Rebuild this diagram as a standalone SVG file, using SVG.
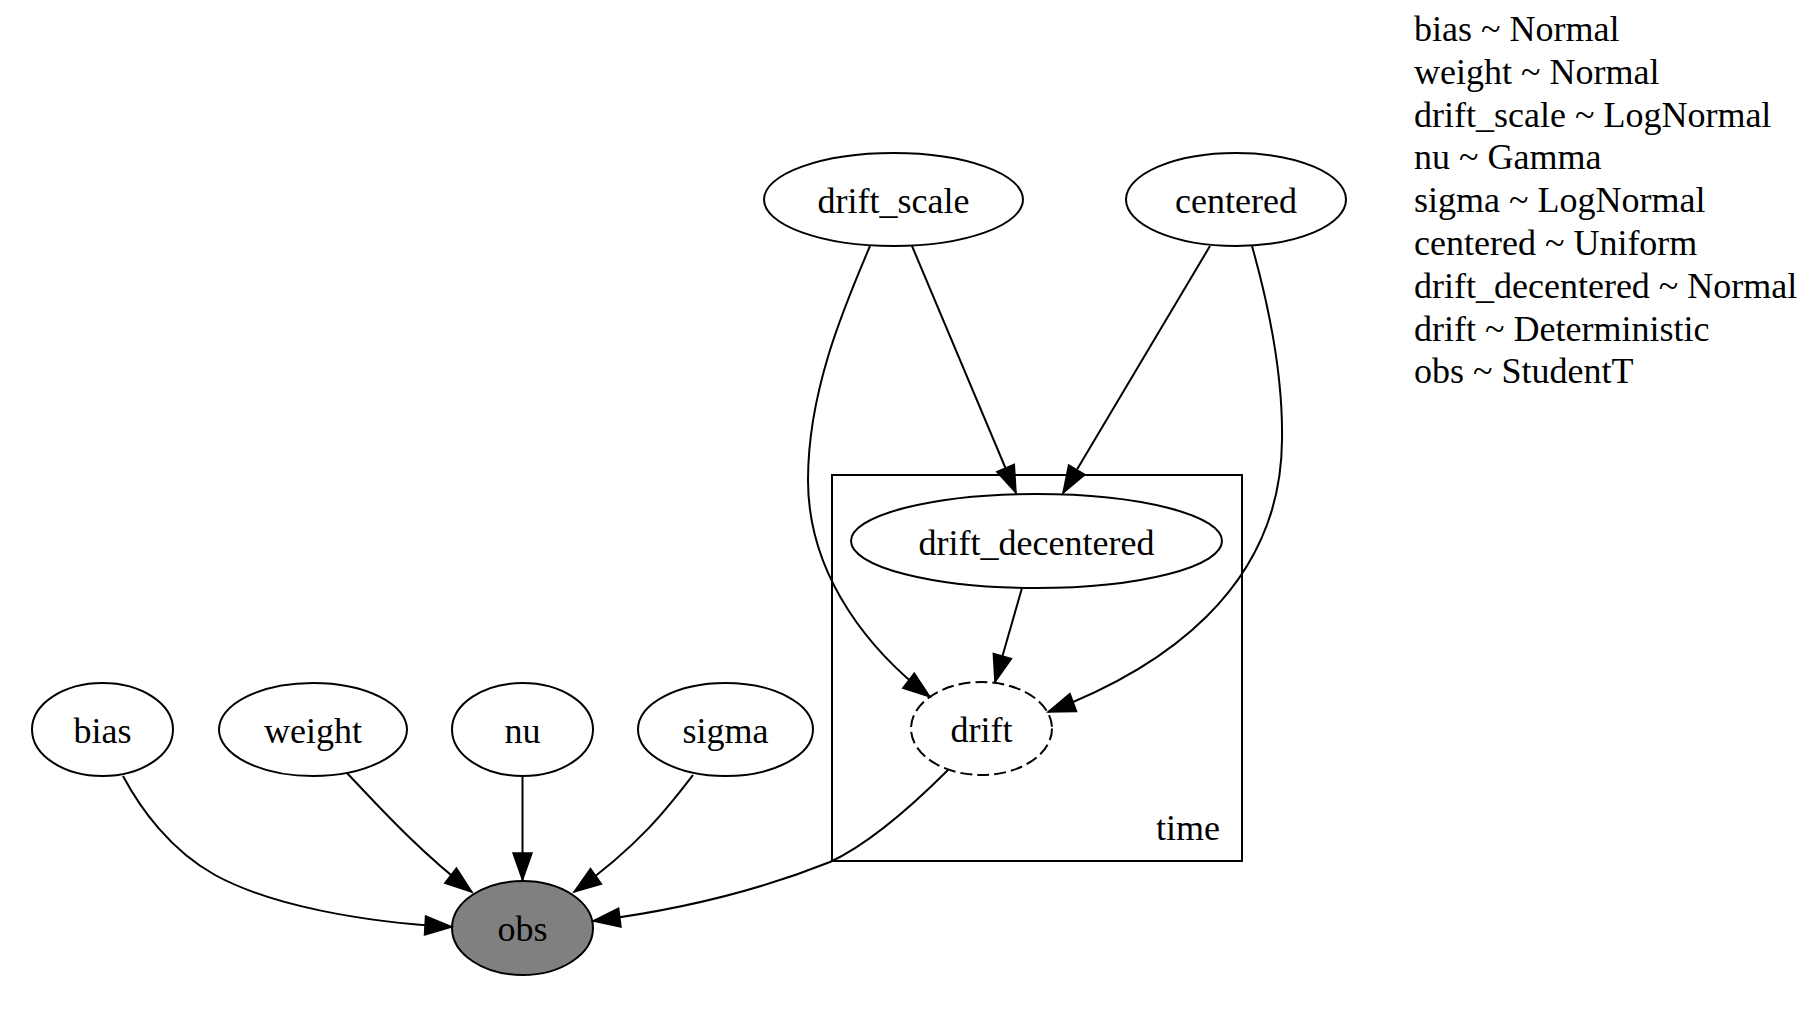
<svg xmlns="http://www.w3.org/2000/svg" width="1814" height="1012" viewBox="0 0 1814 1012">
  <style>
    .node ellipse { fill: #ffffff; stroke: #000000; stroke-width: 2; }
    .node.observed ellipse { fill: #808080; }
    .node.deterministic ellipse { stroke-dasharray: 12 5; }
    text { font-family: "Liberation Serif", "Times New Roman", serif; font-size: 36px; fill: #000000; }
    .node text { text-anchor: middle; }
    .edges path { fill: none; stroke: #000000; stroke-width: 2; marker-end: url(#arrow); }
    .cluster rect { fill: none; stroke: #000000; stroke-width: 2; }
  </style>
  <defs>
    <marker id="arrow" markerUnits="userSpaceOnUse" markerWidth="30" markerHeight="22" viewBox="-1 -1 30 22" refX="27" refY="9.5" orient="auto" overflow="visible">
      <path d="M0,0 L27,9.5 L0,19 Z" fill="#000000" stroke="#000000" stroke-width="1.5" stroke-linejoin="miter"/>
    </marker>
  </defs>
  <rect width="1814" height="1012" fill="#ffffff"/>

  <!-- plate for the time dimension -->
  <g id="cluster_time" class="cluster">
    <rect x="832" y="475" width="410" height="386"/>
    <text x="1220" y="840" text-anchor="end">time</text>
  </g>

  <!-- free variables -->
  <g id="node_drift_scale" class="node">
    <ellipse cx="893.5" cy="199.5" rx="129.5" ry="46.5"/>
    <text x="893.5" y="213">drift_scale</text>
  </g>
  <g id="node_centered" class="node">
    <ellipse cx="1236" cy="199.5" rx="110" ry="46.5"/>
    <text x="1236" y="213">centered</text>
  </g>
  <g id="node_drift_decentered" class="node">
    <ellipse cx="1036.5" cy="541" rx="185.5" ry="47"/>
    <text x="1036.5" y="555">drift_decentered</text>
  </g>
  <g id="node_drift" class="node deterministic">
    <ellipse cx="981.5" cy="728.5" rx="70.5" ry="46.5"/>
    <text x="981.5" y="742">drift</text>
  </g>
  <g id="node_bias" class="node">
    <ellipse cx="102.5" cy="729.5" rx="70.5" ry="46.5"/>
    <text x="102.5" y="743">bias</text>
  </g>
  <g id="node_weight" class="node">
    <ellipse cx="313" cy="729.5" rx="94" ry="46.5"/>
    <text x="313" y="743">weight</text>
  </g>
  <g id="node_nu" class="node">
    <ellipse cx="522.5" cy="729.5" rx="70.5" ry="46.5"/>
    <text x="522.5" y="743">nu</text>
  </g>
  <g id="node_sigma" class="node">
    <ellipse cx="725.5" cy="729.5" rx="87.5" ry="46.5"/>
    <text x="725.5" y="743">sigma</text>
  </g>
  <g id="node_obs" class="node observed">
    <ellipse cx="522.5" cy="928" rx="70.5" ry="47"/>
    <text x="522.5" y="941">obs</text>
  </g>

  <!-- dependencies -->
  <g id="edges" class="edges">
    <path id="e_drift_scale_drift_decentered" d="M912,246 L1016,493"/>
    <path id="e_centered_drift_decentered" d="M1210,246 L1063,493"/>
    <path id="e_drift_scale_drift" d="M870,246 C845,305 808,390 808,480 C808,580 875,655 930,697"/>
    <path id="e_centered_drift" d="M1252,246 C1270,310 1283,380 1282,440 C1281,590 1160,670 1048,712"/>
    <path id="e_drift_decentered_drift" d="M1022,588 L995,682"/>
    <path id="e_bias_obs" d="M123,776 C140,808 170,850 215,875 C270,905 360,922 452,927"/>
    <path id="e_weight_obs" d="M347,773 C380,808 420,852 472,892"/>
    <path id="e_nu_obs" d="M522.5,777 L522.5,880"/>
    <path id="e_sigma_obs" d="M693,775 C670,805 640,845 574,892"/>
    <path id="e_drift_obs" d="M948,770 C900,818 860,848 830,862 C760,890 680,910 593,921"/>
  </g>

  <!-- distribution listing -->
  <g id="legend">
    <text x="1414" y="41">bias ~ Normal</text>
    <text x="1414" y="83.8">weight ~ Normal</text>
    <text x="1414" y="126.6">drift_scale ~ LogNormal</text>
    <text x="1414" y="169.4">nu ~ Gamma</text>
    <text x="1414" y="212.2">sigma ~ LogNormal</text>
    <text x="1414" y="255">centered ~ Uniform</text>
    <text x="1414" y="297.8">drift_decentered ~ Normal</text>
    <text x="1414" y="340.6">drift ~ Deterministic</text>
    <text x="1414" y="383.4">obs ~ StudentT</text>
  </g>
</svg>
